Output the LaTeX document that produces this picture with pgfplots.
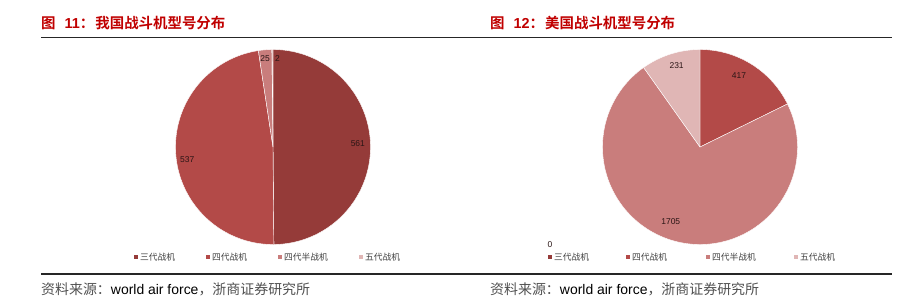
\documentclass[border=0pt]{standalone}
\usepackage{pgfplots}
\pgfplotsset{compat=1.18}
\usepackage{fontspec}
\setmainfont{Liberation Sans}
\newfontfamily\cjk{Noto Sans CJK SC}[BoldFont={* Bold}]
\definecolor{titlered}{HTML}{C00000}
\definecolor{cA}{HTML}{953B39}
\definecolor{cB}{HTML}{B34A48}
\definecolor{cC}{HTML}{C97D7C}
\definecolor{cD}{HTML}{E0B6B5}
\definecolor{srcgray}{HTML}{505050}
\definecolor{leggray}{HTML}{404040}
\definecolor{lblcol}{HTML}{2A1515}

% \slice{cum start}{cum end}{total}{colour}
\newcommand\slice[4]{%
  \pgfmathsetmacro\sa{90-(#2)/(#3)*360}%
  \pgfmathsetmacro\sb{90-(#1)/(#3)*360}%
  \edef\tmp{\noexpand\addplot[fill=#4, draw=white, line width=0.4bp, domain=\sa:\sb, samples=120, variable=\noexpand\t] ({cos(\noexpand\t)},{sin(\noexpand\t)}) -- (axis cs:0,0) -- cycle;}%
  \tmp}

\pgfplotsset{pieaxis/.style={scale only axis, width=195bp, height=195bp,
  xmin=-1, xmax=1, ymin=-1, ymax=1, hide axis, clip=false, anchor=center}}

\begin{document}
\begin{tikzpicture}
\begin{scope}[x=1bp,y=-1bp]
\path[use as bounding box] (0,0) rectangle (917,307);
% titles
\node[anchor=west, inner sep=0, text=titlered] at (41,23)
  {\fontsize{14.5}{15}\selectfont\bfseries{\cjk 图}\hspace{9bp}11{\cjk ：}\hspace{1bp}{\cjk 我国战斗机型号分布}};
\node[anchor=west, inner sep=0, text=titlered] at (490,23)
  {\fontsize{14.5}{15}\selectfont\bfseries{\cjk 图}\hspace{9bp}12{\cjk ：}\hspace{1bp}{\cjk 美国战斗机型号分布}};
% rules
\draw[line width=1.1bp, black!85] (41,37.5) -- (892,37.5);
\draw[line width=1.1bp, black!85] (41,274) -- (892,274);
% sources
\node[anchor=west, inner sep=0] at (41,289)
  {\fontsize{14}{15}\selectfont{\color{srcgray}\cjk 资料来源：}world air force{\color{srcgray}\cjk ，浙商证券研究所}};
\node[anchor=west, inner sep=0] at (490,289)
  {\fontsize{14}{15}\selectfont{\color{srcgray}\cjk 资料来源：}world air force{\color{srcgray}\cjk ，浙商证券研究所}};
% legends
\foreach \x/\c/\t in {136/cA/三代战机, 208/cB/四代战机, 280/cC/四代半战机, 361/cD/五代战机,
                      550/cA/三代战机, 628/cB/四代战机, 708/cC/四代半战机, 796/cD/五代战机}{
  \fill[\c] (\x-2.3,257-2.3) rectangle (\x+2.3,257+2.3);
  \node[anchor=west, inner sep=0, text=leggray] at (\x+3.8,257.5) {\fontsize{8.8}{9}\selectfont\cjk \t};
}
\node[inner sep=0, text=lblcol] at (550,245) {\fontsize{8.5}{9}\selectfont 0};
\end{scope}

% China pie: 561, 537, 25, 2 (total 1125)
\begin{axis}[pieaxis, at={(273bp,-147bp)}]
\slice{0}{561}{1125}{cA}
\slice{561}{1098}{1125}{cB}
\slice{1098}{1123}{1125}{cC}
\slice{1123}{1125}{1125}{cD}
\node[text=lblcol, font=\fontsize{8.5}{9}\selectfont] at (axis cs:0.87,0.04) {561};
\node[text=lblcol, font=\fontsize{8.5}{9}\selectfont] at (axis cs:-0.88,-0.13) {537};
\node[text=lblcol, font=\fontsize{8.5}{9}\selectfont] at (axis cs:-0.08,0.91) {25};
\node[text=lblcol, font=\fontsize{8.5}{9}\selectfont] at (axis cs:0.045,0.91) {2};
\end{axis}

% US pie: 0, 417, 1705, 231 (total 2353)
\begin{axis}[pieaxis, at={(700bp,-147bp)}]
\slice{0}{417}{2353}{cB}
\slice{417}{2122}{2353}{cC}
\slice{2122}{2353}{2353}{cD}
\node[text=lblcol, font=\fontsize{8.5}{9}\selectfont] at (axis cs:0.40,0.73) {417};
\node[text=lblcol, font=\fontsize{8.5}{9}\selectfont] at (axis cs:-0.30,-0.77) {1705};
\node[text=lblcol, font=\fontsize{8.5}{9}\selectfont] at (axis cs:-0.24,0.83) {231};
\end{axis}
\end{tikzpicture}
\end{document}
